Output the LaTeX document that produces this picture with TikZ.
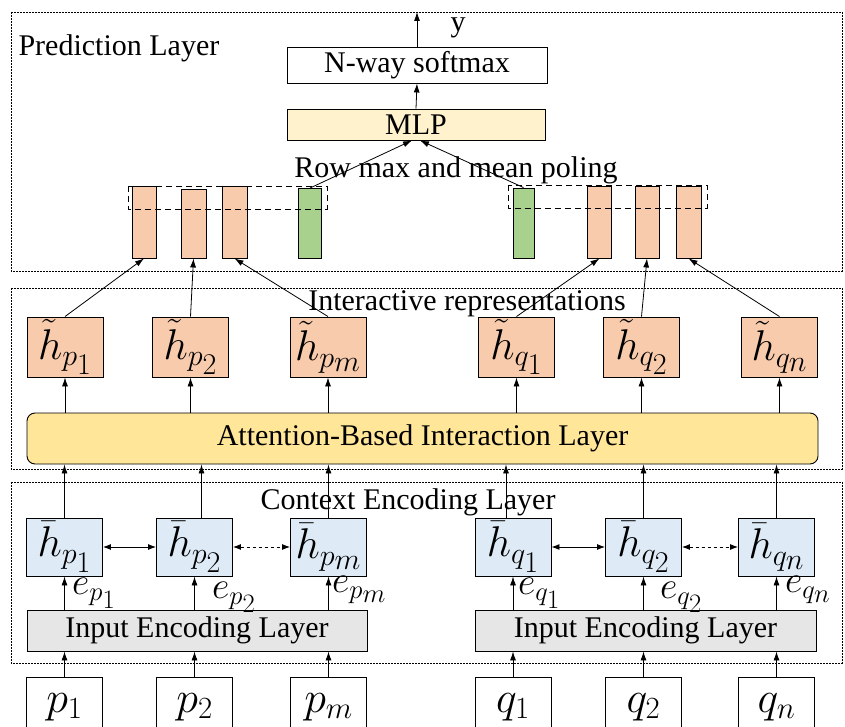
\RequirePackage{fix-cm}
\documentclass[tikz,border=0pt]{standalone}
\usepackage{fontspec}
\setmainfont{Liberation Serif}
\usetikzlibrary{positioning,arrows.meta}

\definecolor{barorange}{HTML}{F8CBAD}
\definecolor{bargreen}{HTML}{A9D18E}
\definecolor{ctxblue}{HTML}{DEEBF7}
\definecolor{inpgray}{HTML}{E7E6E6}
\definecolor{mlpyellow}{HTML}{FFF2CC}
\definecolor{attyellow}{HTML}{FFE699}

% subscripts a bit larger than plain TeX's
\newcommand{\sub}[2]{#1_{\scriptstyle #2}}

\begin{document}
\begin{tikzpicture}[x=1pt,y=-1pt,
				font=\fontsize{30}{34}\selectfont,
				box/.style={draw,line width=0.9pt,inner sep=0pt},
				layerbox/.style={draw,line width=0.6pt,dash pattern=on 2pt off 1pt},
				pooldash/.style={draw,line width=0.9pt,dash pattern=on 6pt off 4pt},
				vec/.style={box,fill=barorange,minimum width=24pt,minimum height=72pt},
				meanvec/.style={box,fill=bargreen,minimum width=23pt,minimum height=70pt},
				hrep/.style={box,fill=barorange,minimum width=76pt,minimum height=60pt,font=\fontsize{43}{47}\selectfont},
				hctx/.style={box,fill=ctxblue,minimum width=76pt,minimum height=58pt,font=\fontsize{43}{47}\selectfont},
				word/.style={box,minimum width=76pt,minimum height=60pt,font=\fontsize{44}{48}\selectfont},
				elab/.style={anchor=west,inner sep=0pt,font=\fontsize{38}{42}\selectfont},
				arr/.style={-{Latex[length=9pt,width=6pt]},line width=0.8pt},
				biarr/.style={{Latex[length=8pt,width=6pt]}-{Latex[length=8pt,width=6pt]},line width=0.9pt}]
				\path[use as bounding box,clip] (0,0) rectangle (845,727);

				% prediction layer
				\draw[layerbox] (11,12) rectangle (842,271);
				\node[anchor=west] (predtxt) at (15,48) {Prediction Layer};
				\node[box,minimum width=260pt,minimum height=36pt] (softmax) at (417,65) {N-way softmax};
				\node[box,fill=mlpyellow,minimum width=258pt,minimum height=31pt] (mlp) at (416,124.5) {MLP};
				\coordinate (out) at (417,12);
				\node (ylab) at (458,28) {y};
				\draw[arr] (softmax.north) -- (out);
				\draw[arr] (mlp.north) -- (softmax.south);
				\node (pooltxt) at (456,170) {Row max and mean poling};
				% left
				\node[vec] (vp1) at (144,222) {};
				\node[vec,minimum width=25pt,minimum height=69pt] (vp2) at (193.5,223.5) {};
				\node[vec,minimum width=25pt] (vpm) at (234.5,222) {};
				\node[meanvec] (gp) at (310,223.5) {};
				\draw[pooldash] (128,186) rectangle (327,209);
				% right
				\node[meanvec,minimum width=21pt] (gq) at (523.5,223) {};
				\node[vec] (vq1) at (599.5,222) {};
				\node[vec] (vq2) at (647,222) {};
				\node[vec,minimum width=25pt] (vqn) at (688.5,222) {};
				\draw[pooldash] (508,185) rectangle (707,208);
				\draw[arr] (gp.north) -- ([xshift=-4pt]mlp.south);
				\draw[arr] (gq.north) -- ([xshift=4pt]mlp.south);

				% interactive representations
				\draw[layerbox] (11,288) rectangle (842,469);
				\node (inttxt) at (467,304) {Interactive representations};
				\node[hrep] (hp1) at (65,347) {$\sub{\tilde{h}}{p_{\scriptstyle 1}}$};
				\node[hrep] (hp2) at (190.5,347) {$\sub{\tilde{h}}{p_{\scriptstyle 2}}$};
				\node[hrep] (hpm) at (328,347) {$\sub{\tilde{h}}{p_{\scriptstyle m}}$};
				\node[hrep] (hq1) at (516.5,347) {$\sub{\tilde{h}}{q_{\scriptstyle 1}}$};
				\node[hrep] (hq2) at (641.5,347) {$\sub{\tilde{h}}{q_{\scriptstyle 2}}$};
				\node[hrep] (hqn) at (779.5,347) {$\sub{\tilde{h}}{q_{\scriptstyle n}}$};
				\node[box,fill=attyellow,rounded corners=8pt,minimum width=791pt,minimum height=51pt] (att) at (422.5,438.5) {Attention-Based Interaction Layer};
				\foreach \n in {hp1,hp2,hpm,hq1,hq2,hqn}
					\draw[arr] (att.north -| \n) -- (\n.south);
				\foreach \a/\b in {hp1/vp1,hp2/vp2,hpm/vpm,hq1/vq1,hq2/vq2,hqn/vqn}
					\draw[arr] (\a.north) -- (\b.south);

				% context encoding layer
				\draw[layerbox] (11,482) rectangle (842,663);
				\node (ctxtxt) at (408,502) {Context Encoding Layer};
				\node[hctx] (bp1) at (64.5,547) {$\sub{\bar{h}}{p_{\scriptstyle 1}}$};
				\node[hctx] (bp2) at (194.5,547) {$\sub{\bar{h}}{p_{\scriptstyle 2}}$};
				\node[hctx] (bpm) at (328.5,547) {$\sub{\bar{h}}{p_{\scriptstyle m}}$};
				\node[hctx] (bq1) at (513,547) {$\sub{\bar{h}}{q_{\scriptstyle 1}}$};
				\node[hctx] (bq2) at (643.5,547) {$\sub{\bar{h}}{q_{\scriptstyle 2}}$};
				\node[hctx] (bqn) at (776.5,547) {$\sub{\bar{h}}{q_{\scriptstyle n}}$};
				\draw[biarr] (bp1.east) -- (bp2.west);
				\draw[biarr,dashed] (bp2.east) -- (bpm.west);
				\draw[biarr] (bq1.east) -- (bq2.west);
				\draw[biarr,dashed] (bq2.east) -- (bqn.west);
				\draw[arr] (bp1.north) -- (bp1 |- att.south);
				\draw[arr] ([xshift=7pt]bp2.north) -- ([xshift=7pt]bp2.north |- att.south);
				\draw[arr] (bpm.north) -- (bpm |- att.south);
				\draw[arr] ([xshift=-7pt]bq1.north) -- ([xshift=-7pt]bq1.north |- att.south);
				\draw[arr] (bq2.north) -- (bq2 |- att.south);
				\draw[arr] (bqn.north) -- (bqn |- att.south);
				\node[box,fill=inpgray,minimum width=340pt,minimum height=41pt] (inp) at (197,630.5) {Input Encoding Layer};
				\node[box,fill=inpgray,minimum width=341pt,minimum height=41pt] (inq) at (645.5,630.5) {Input Encoding Layer};
				\node[elab] (ep1) at (72,593) {$\sub{e}{p_{\scriptstyle 1}}$};
				\node[elab] (ep2) at (212,597) {$\sub{e}{p_{\scriptstyle 2}}$};
				\node[elab] (epm) at (332,590) {$\sub{e}{p_{\scriptstyle m}}$};
				\node[elab] (eq1) at (518,593) {$\sub{e}{q_{\scriptstyle 1}}$};
				\node[elab] (eq2) at (660,597) {$\sub{e}{q_{\scriptstyle 2}}$};
				\node[elab] (eqn) at (785,590) {$\sub{e}{q_{\scriptstyle n}}$};

				% words
				\node[word] (p1) at (64.5,707) {$\sub{p}{1}$};
				\node[word] (p2) at (194.5,707) {$\sub{p}{2}$};
				\node[word] (pm) at (328.5,707) {$\sub{p}{m}$};
				\node[word] (q1) at (513,707) {$\sub{q}{1}$};
				\node[word] (q2) at (643.5,707) {$\sub{q}{2}$};
				\node[word] (qn) at (776.5,707) {$\sub{q}{n}$};
				\foreach \n in {p1,p2,pm}
					\draw[arr] (\n.north) -- (\n |- inp.south);
				\foreach \n in {q1,q2,qn}
					\draw[arr] (\n.north) -- (\n |- inq.south);
				\foreach \n in {bp1,bp2,bpm}
					\draw[arr] (\n |- inp.north) -- (\n.south);
				\foreach \n in {bq1,bq2,bqn}
					\draw[arr] (\n |- inq.north) -- (\n.south);
			\end{tikzpicture}
\end{document}
